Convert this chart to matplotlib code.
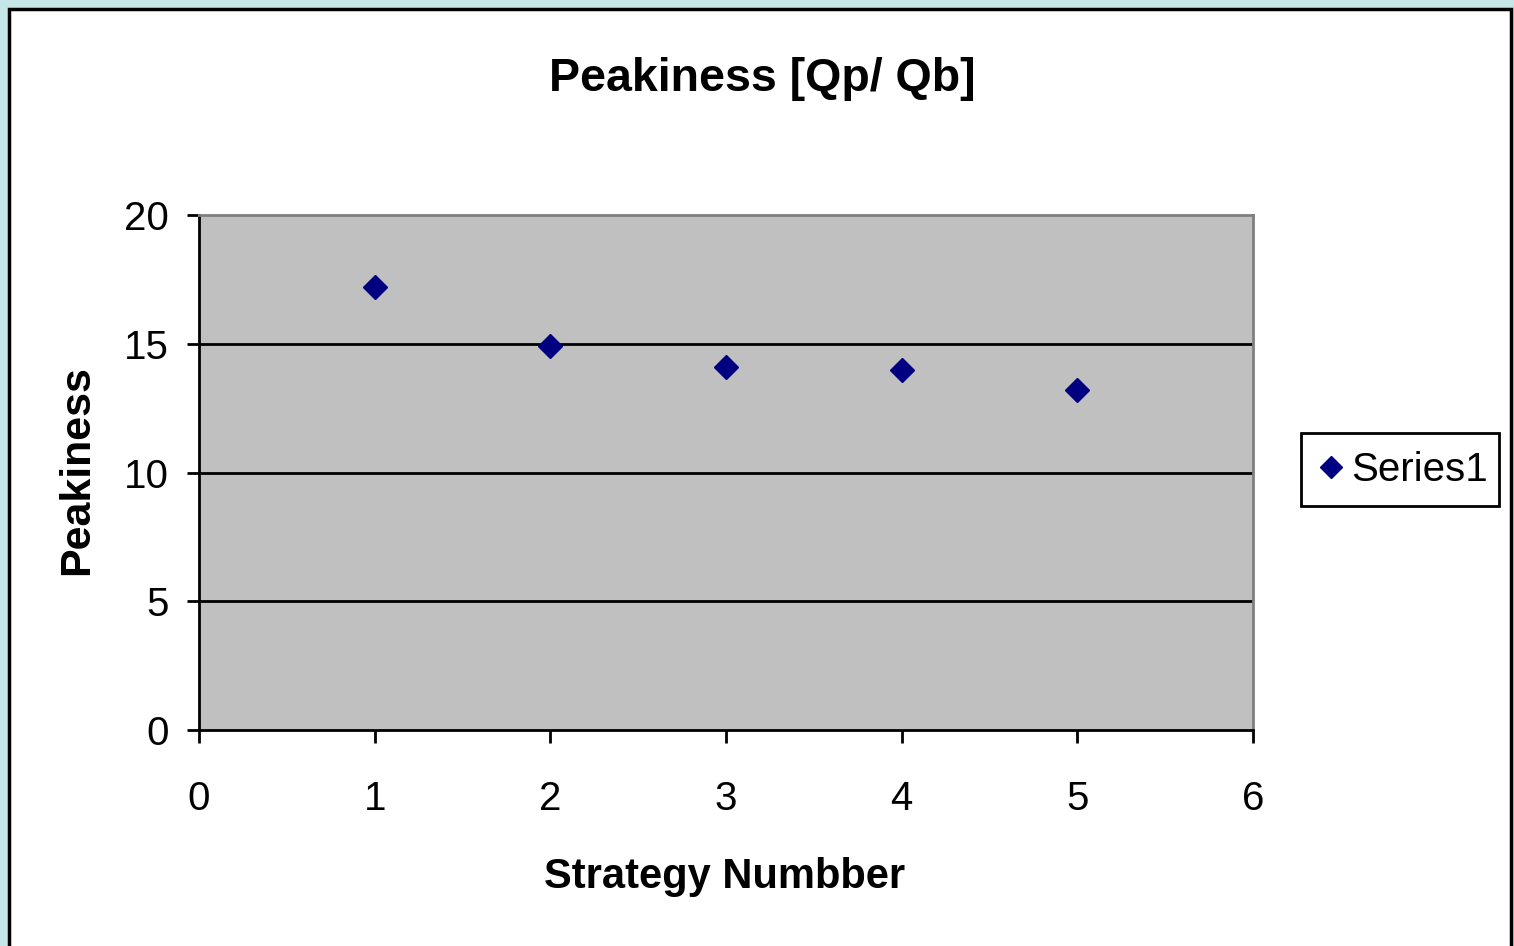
import matplotlib.pyplot as plt
from matplotlib.patches import Rectangle

plt.rcParams['font.family'] = ['Liberation Sans', 'DejaVu Sans']

strategies = [1, 2, 3, 4, 5]
peakiness = [17.2, 14.9, 14.1, 14.0, 13.2]
series_name = "Series1"

fig = plt.figure(figsize=(15.14, 9.46), dpi=100)
fig.patch.set_facecolor("#c4e6e6")

# white chart area with a black frame
fig.patches.append(Rectangle((9 / 1514, -0.05), 1502 / 1514, 1.05 - 9 / 946,
                             transform=fig.transFigure, facecolor="white",
                             edgecolor="black", linewidth=2.5, zorder=-1))

ax = fig.add_axes([199 / 1514, 1 - 730 / 946, 1054 / 1514, 515 / 946])
ax.set_facecolor("#c0c0c0")

ax.plot(strategies, peakiness, linestyle="none", marker="D", markersize=12,
        color="#000080", label=series_name, zorder=3, clip_on=False)

ax.set_xlim(0, 6)
ax.set_ylim(0, 20)
ax.set_xticks(range(0, 7))
ax.set_yticks(range(0, 21, 5))
for y in [5, 10, 15]:
    ax.axhline(y, color="black", linewidth=2, zorder=1)

for side in ["top", "right"]:
    ax.spines[side].set_color("#808080")
    ax.spines[side].set_linewidth(2)
for side in ["left", "bottom"]:
    ax.spines[side].set_color("black")
    ax.spines[side].set_linewidth(2)

ax.tick_params(axis="both", direction="out", length=9, width=2,
               labelsize=29)
ax.tick_params(axis="y", pad=13)
ax.tick_params(axis="x", pad=27)

fig.text(762 / 1514, 1 - 79 / 946, "Peakiness [Qp/ Qb]", ha="center",
         va="center", fontsize=33.5, fontweight="bold")
fig.text(725 / 1514, 1 - 877 / 946, "Strategy Numbber", ha="center",
         va="center", fontsize=30, fontweight="bold")
fig.text(77 / 1514, 1 - 470 / 946, "Peakiness", ha="center", va="center",
         rotation=90, fontsize=31, fontweight="bold")

# legend box drawn separately so its padding can be set per side
fig.patches.append(Rectangle((1301 / 1514, 1 - 506 / 946), 198 / 1514, 73 / 946,
                             transform=fig.transFigure, facecolor="white",
                             edgecolor="black", linewidth=2, zorder=1))
leg = fig.legend(loc="center", bbox_to_anchor=(1400 / 1514, 1 - 470 / 946),
                 fontsize=29, frameon=False, handletextpad=0.05,
                 handlelength=0.9, markerscale=0.95, borderpad=0.2)
leg.set_zorder(2)

fig.savefig("out.png", dpi=100, facecolor=fig.get_facecolor())
